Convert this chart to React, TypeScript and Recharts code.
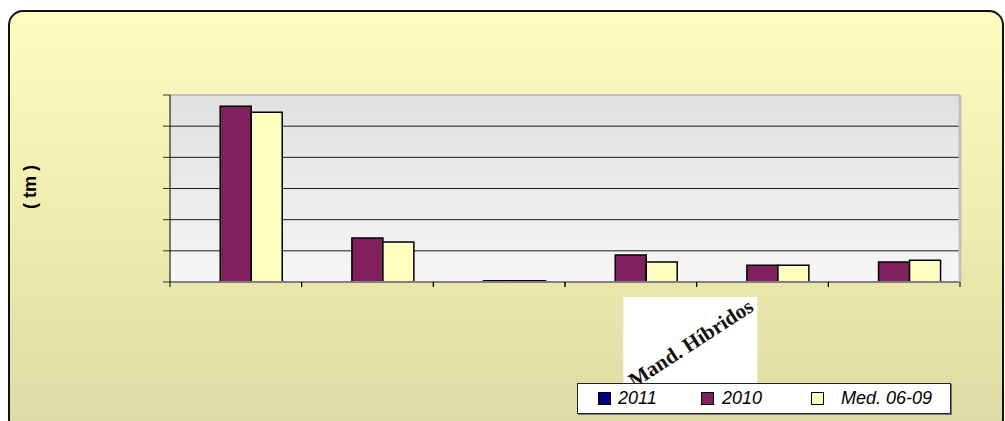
import React from 'react';
import {
  BarChart,
  Bar,
  XAxis,
  YAxis,
  CartesianGrid,
  Legend,
  ReferenceLine,
} from 'recharts';

// categories (only one label is visible in the source picture)
const categories = ['', '', '', 'Mand. Híbridos', '', ''];
const serie2011: (number | null)[] = [null, null, null, null, null, null];
const serie2010 = [5640, 1410, 40, 870, 540, 640];
const serieMed = [5450, 1280, 40, 640, 540, 700];
const yTicks = [0, 1000, 2000, 3000, 4000, 5000, 6000];

const data = categories.map((c, i) => ({
  cat: c,
  y2011: serie2011[i],
  y2010: serie2010[i],
  med: serieMed[i],
}));

const COLORS = { y2011: '#000080', y2010: '#80205e', med: '#ffffc0' };

// Excel-style: tick marks sit between categories, label in a white box
const CategoryTick = (props: any) => {
  const { x, y, payload, index } = props;
  const half = payload?.offset ?? 0;
  const marks = (
    <>
      <line x1={x - half} x2={x - half} y1={y} y2={y + 5} stroke="#000" />
      <line x1={x + half} x2={x + half} y1={y} y2={y + 5} stroke="#000" />
    </>
  );
  if (!payload || !payload.value) return <g>{marks}</g>;
  const id = `lblclip-${index}`;
  const ax = x + 124;
  const ay = y + 28;
  return (
    <g>
      {marks}
      <defs>
        <clipPath id={id}>
          <rect x={x - 7.5} y={y + 15} width={134} height={101} />
        </clipPath>
      </defs>
      <rect x={x - 7.5} y={y + 15} width={134} height={101} fill="#ffffff" />
      <g clipPath={`url(#${id})`}>
        <text
          x={ax}
          y={ay}
          textAnchor="end"
          transform={`rotate(-33 ${ax} ${ay})`}
          fontFamily="'Liberation Serif', 'DejaVu Serif', serif"
          fontWeight="bold"
          fontSize={21}
          fill="#111"
        >
          {payload.value}
        </text>
      </g>
    </g>
  );
};

const LegendBox = () => {
  const items = [
    { label: '2011', color: COLORS.y2011, box: 20, text: 40 },
    { label: '2010', color: COLORS.y2010, box: 123, text: 144 },
    { label: 'Med. 06-09', color: COLORS.med, box: 233, text: 263 },
  ];
  return (
    <div
      style={{
        position: 'relative',
        width: 372,
        height: 29,
        background: '#ffffff',
        border: '1px solid #222',
        boxShadow: '1px 1px 0 #777',
        fontFamily: "'Liberation Sans', Arial, sans-serif",
        fontStyle: 'italic',
        fontSize: 18,
        color: '#000',
      }}
    >
      {items.map((it) => (
        <React.Fragment key={it.label}>
          <span
            style={{
              position: 'absolute',
              left: it.box,
              top: 8,
              width: 11,
              height: 11,
              background: it.color,
              border: '1px solid #000',
            }}
          />
          <span style={{ position: 'absolute', left: it.text, top: 4, lineHeight: '20px' }}>
            {it.label}
          </span>
        </React.Fragment>
      ))}
    </div>
  );
};

export default function App() {
  return (
    <div style={{ position: 'fixed', left: 0, top: 0, width: 1005, height: 421, background: '#fff', overflow: 'hidden' }}>
      <div
        style={{
          position: 'absolute',
          left: 8,
          top: 10,
          width: 992,
          height: 420,
          border: '2px solid #111',
          borderRadius: 15,
          background: 'linear-gradient(to bottom, #fdfdc0 0%, #f0eeb0 45%, #dddaa4 100%)',
        }}
      />
      <div
        style={{
          position: 'absolute',
          left: 30,
          top: 187,
          transform: 'translate(-50%, -50%) rotate(-90deg)',
          fontFamily: "'Liberation Sans', Arial, sans-serif",
          fontWeight: 'bold',
          fontSize: 18,
          whiteSpace: 'nowrap',
          color: '#000',
        }}
      >
        ( tm )
      </div>
      <div style={{ position: 'absolute', left: 0, top: 0 }}>
        <BarChart
          width={1005}
          height={421}
          data={data}
          margin={{ top: 95, right: 0, left: 110, bottom: 138 }}
          barGap={0}
          barCategoryGap="14.6%"
        >
          <defs>
            <linearGradient id="plotBg" x1="0" y1="0" x2="0" y2="1">
              <stop offset="0%" stopColor="#e0e0e0" />
              <stop offset="100%" stopColor="#f6f6f6" />
            </linearGradient>
          </defs>
          <CartesianGrid
            yAxisId="left"
            xAxisId="cat"
            vertical={false}
            stroke="#1a1a1a"
            fill="url(#plotBg)"
            fillOpacity={1}
          />
          <XAxis
            xAxisId="cat"
            dataKey="cat"
            height={1}
            interval={0}
            axisLine={{ stroke: '#808080', strokeWidth: 2 }}
            tickLine={false}
            tickSize={0}
            tickMargin={0}
            tick={(p: any) => <CategoryTick {...p} />}
          />
          <YAxis
            yAxisId="left"
            width={60}
            domain={[0, 6000]}
            ticks={yTicks}
            tickSize={7}
            axisLine={{ stroke: '#000' }}
            tickLine={{ stroke: '#333' }}
            tickFormatter={() => ''}
          />
          <YAxis
            yAxisId="right"
            orientation="right"
            width={45}
            axisLine={{ stroke: '#c0c0c0', strokeWidth: 3 }}
            tickLine={false}
            tick={false}
          />
          <ReferenceLine yAxisId="left" xAxisId="cat" y={6000} stroke="#c0c0c0" strokeWidth={2} />
          <Legend
            layout="horizontal"
            verticalAlign="middle"
            align="center"
            content={<LegendBox />}
            wrapperStyle={{ position: 'absolute', left: 577, top: 383, width: 374, height: 31 }}
          />
          <Bar
            yAxisId="left"
            xAxisId="cat"
            dataKey="y2011"
            name="2011"
            fill={COLORS.y2011}
            stroke="#000"
            strokeWidth={1.5}
            isAnimationActive={false}
          />
          <Bar
            yAxisId="left"
            xAxisId="cat"
            dataKey="y2010"
            name="2010"
            fill={COLORS.y2010}
            stroke="#000"
            strokeWidth={1.5}
            isAnimationActive={false}
          />
          <Bar
            yAxisId="left"
            xAxisId="cat"
            dataKey="med"
            name="Med. 06-09"
            fill={COLORS.med}
            stroke="#000"
            strokeWidth={1.5}
            isAnimationActive={false}
          />
        </BarChart>
      </div>
    </div>
  );
}
